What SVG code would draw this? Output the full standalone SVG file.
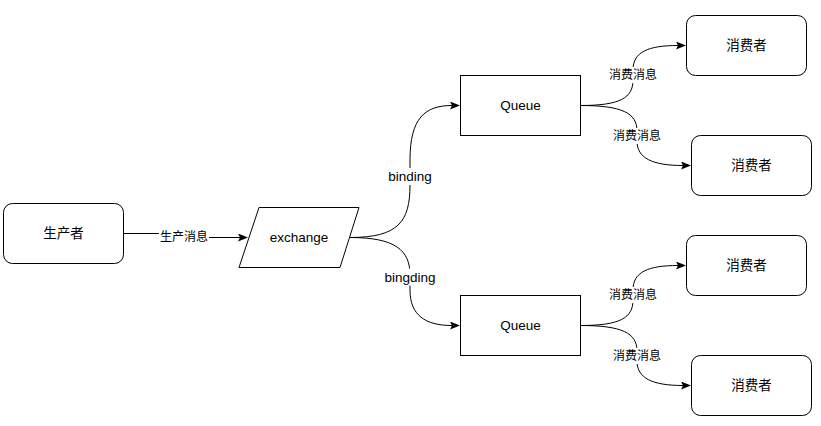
<svg xmlns="http://www.w3.org/2000/svg" width="821" height="426" viewBox="0 0 821 426">
<style>
.node{fill:#fff;stroke:#000;stroke-width:1}
.t{font-family:"Liberation Sans","Noto Sans CJK SC",sans-serif;font-size:13.5px;fill:#000;text-anchor:middle}
.lt{font-family:"Liberation Sans","Noto Sans CJK SC",sans-serif;font-size:12px;fill:#000;text-anchor:middle}
.ll{font-family:"Liberation Sans","Noto Sans CJK SC",sans-serif;font-size:13.5px;fill:#000;text-anchor:middle}
.edge{fill:none;stroke:#000;stroke-width:1;marker-end:url(#arr)}
.lbg{fill:#fff}
</style>
<defs>
<marker id="arr" viewBox="0 0 10 8" markerUnits="userSpaceOnUse" markerWidth="10" markerHeight="8" refX="2" refY="4" orient="auto">
<path d="M0,0 L10,4 L0,8 L2,4 z" fill="#000"/>
</marker>
</defs>
<rect width="821" height="426" fill="#fff"/>
<g id="connectors">
<path class="edge" d="M123.5,233.5 L184,233.5 L184,237.5 L240,237.5"/>
<path class="edge" d="M350,237.5 C398,237.5 410,222 410,185 L410,160 C410,118 425,105.5 452,105.5"/>
<path class="edge" d="M350,237.5 C395,237.5 410,250 410,275 L410,290 C410,315 425,325.5 452,325.5"/>
<path class="edge" d="M580.5,105.5 C620,105.5 633,98 633,80 L633,70 C633,52 648,45.5 678,45.5"/>
<path class="edge" d="M580.5,105.5 C622,105.5 637,113 637,131 L637,141 C637,158 652,165.5 683,165.5"/>
<path class="edge" d="M580.5,325.5 C620,325.5 633,318 633,300 L633,290 C633,272 648,265.5 678,265.5"/>
<path class="edge" d="M580.5,325.5 C622,325.5 637,333 637,351 L637,361 C637,378 652,385.5 683,385.5"/>
<rect class="lbg" x="159" y="229" width="50" height="16"/>
<text class="lt" x="184" y="241.2">生产消息</text>
<rect class="lbg" x="387" y="168" width="46" height="17"/>
<text class="ll" x="410" y="181.2">binding</text>
<rect class="lbg" x="383" y="268.5" width="54" height="17"/>
<text class="ll" x="410" y="281.7">bingding</text>
<rect class="lbg" x="609" y="67" width="48" height="16"/>
<text class="lt" x="633" y="79.2">消费消息</text>
<rect class="lbg" x="613" y="128" width="48" height="16"/>
<text class="lt" x="637" y="140.2">消费消息</text>
<rect class="lbg" x="609" y="287" width="48" height="16"/>
<text class="lt" x="633" y="299.2">消费消息</text>
<rect class="lbg" x="613" y="348" width="48" height="16"/>
<text class="lt" x="637" y="360.2">消费消息</text>
</g>
<g id="producer">
<rect class="node" x="3.5" y="203.5" width="120" height="60" rx="9"/>
<text class="t" x="63.5" y="238.2">生产者</text>
</g>
<g id="exchange">
<polygon class="node" points="259,207.5 359,207.5 340,267.5 239,267.5"/>
<text class="t" x="299" y="242.2">exchange</text>
</g>
<g id="queue1">
<rect class="node" x="460.5" y="75.5" width="120" height="60"/>
<text class="t" x="520.5" y="110.2">Queue</text>
</g>
<g id="queue2">
<rect class="node" x="460.5" y="295.5" width="120" height="60"/>
<text class="t" x="520.5" y="330.2">Queue</text>
</g>
<g id="consumer1">
<rect class="node" x="686.5" y="15.5" width="120" height="60" rx="9"/>
<text class="t" x="746.5" y="50.2">消费者</text>
</g>
<g id="consumer2">
<rect class="node" x="691.5" y="135.5" width="120" height="60" rx="9"/>
<text class="t" x="751.5" y="170.2">消费者</text>
</g>
<g id="consumer3">
<rect class="node" x="686.5" y="235.5" width="120" height="60" rx="9"/>
<text class="t" x="746.5" y="270.2">消费者</text>
</g>
<g id="consumer4">
<rect class="node" x="691.5" y="355.5" width="120" height="60" rx="9"/>
<text class="t" x="751.5" y="390.2">消费者</text>
</g>
</svg>
